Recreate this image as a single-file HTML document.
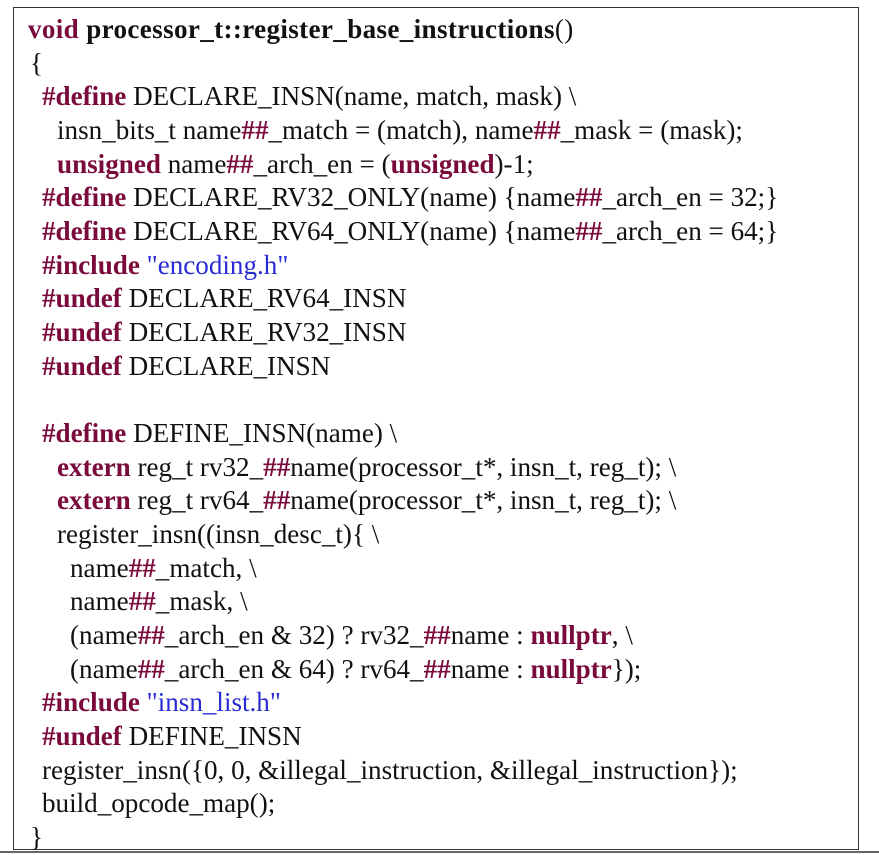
<!DOCTYPE html>
<html><head><meta charset="utf-8"><style>
html,body{margin:0;padding:0;background:#fff;width:879px;height:855px;overflow:hidden}
.box{position:absolute;left:13px;top:7px;width:846px;height:843px;border:1.5px solid #333;box-sizing:border-box}
.code{position:absolute;left:0;top:13px;font-family:"Liberation Serif",serif;font-size:27.1px;color:#111}
.l{position:absolute;height:33.67px;line-height:33.67px;white-space:pre}
.k{color:#7a0a3c;font-weight:bold}
.s{color:#2b2bd6}
.bottom{position:absolute;left:0;top:851px;width:879px;height:2px;background:#666}
</style></head><body>
<div class="box"></div>
<div class="bottom"></div>
<div class="code">
<div class="l" style="left:28px;top:0px;letter-spacing:0.35px"><b><span class="k">void</span> processor_t::register_base_instructions</b>()</div>
<div class="l" style="left:30px;top:33.67px">{</div>
<div class="l" style="left:42px;top:67.3px"><span class="k">#define</span> DECLARE_INSN(name, match, mask) \</div>
<div class="l" style="left:57px;top:101px">insn_bits_t name<span class="k">##</span>_match = (match), name<span class="k">##</span>_mask = (mask);</div>
<div class="l" style="left:57px;top:134.7px"><span class="k">unsigned</span> name<span class="k">##</span>_arch_en = (<span class="k">unsigned</span>)-1;</div>
<div class="l" style="left:42px;top:168.3px"><span class="k">#define</span> DECLARE_RV32_ONLY(name) {name<span class="k">##</span>_arch_en = 32;}</div>
<div class="l" style="left:42px;top:202px"><span class="k">#define</span> DECLARE_RV64_ONLY(name) {name<span class="k">##</span>_arch_en = 64;}</div>
<div class="l" style="left:42px;top:235.7px"><span class="k">#include</span> <span class="s">"encoding.h"</span></div>
<div class="l" style="left:42px;top:269.4px"><span class="k">#undef</span> DECLARE_RV64_INSN</div>
<div class="l" style="left:42px;top:303px"><span class="k">#undef</span> DECLARE_RV32_INSN</div>
<div class="l" style="left:42px;top:336.7px"><span class="k">#undef</span> DECLARE_INSN</div>
<div class="l" style="left:42px;top:404px"><span class="k">#define</span> DEFINE_INSN(name) \</div>
<div class="l" style="left:57px;top:437.7px"><span class="k">extern</span> reg_t rv32_<span class="k">##</span>name(processor_t*, insn_t, reg_t); \</div>
<div class="l" style="left:57px;top:471.4px"><span class="k">extern</span> reg_t rv64_<span class="k">##</span>name(processor_t*, insn_t, reg_t); \</div>
<div class="l" style="left:57px;top:505px">register_insn((insn_desc_t){ \</div>
<div class="l" style="left:70px;top:538.7px">name<span class="k">##</span>_match, \</div>
<div class="l" style="left:70px;top:572.4px">name<span class="k">##</span>_mask, \</div>
<div class="l" style="left:70px;top:606px">(name<span class="k">##</span>_arch_en &amp; 32) ? rv32_<span class="k">##</span>name : <span class="k">nullptr</span>, \</div>
<div class="l" style="left:70px;top:639.7px">(name<span class="k">##</span>_arch_en &amp; 64) ? rv64_<span class="k">##</span>name : <span class="k">nullptr</span>});</div>
<div class="l" style="left:42px;top:673.4px"><span class="k">#include</span> <span class="s">"insn_list.h"</span></div>
<div class="l" style="left:42px;top:707px"><span class="k">#undef</span> DEFINE_INSN</div>
<div class="l" style="left:42px;top:740.7px">register_insn({0, 0, &amp;illegal_instruction, &amp;illegal_instruction});</div>
<div class="l" style="left:42px;top:774.4px">build_opcode_map();</div>
<div class="l" style="left:30px;top:808px">}</div>
</div>
</body></html>
